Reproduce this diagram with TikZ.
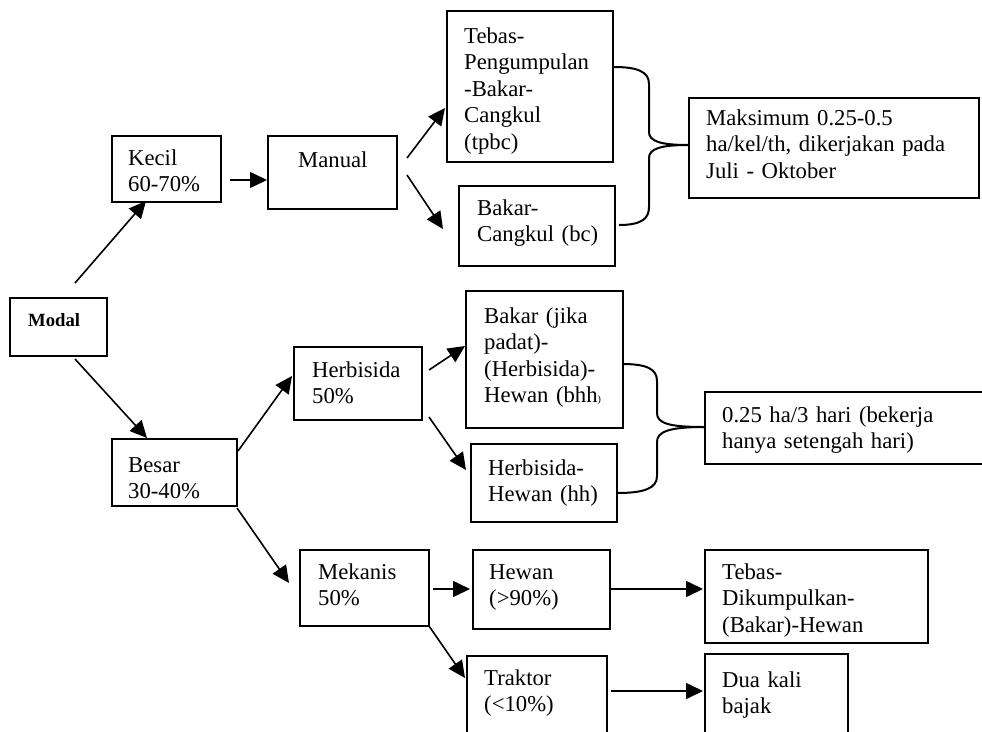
\documentclass[tikz,border=0pt]{standalone}
\usepackage{fontspec}
\setmainfont{Liberation Serif}
\usetikzlibrary{arrows.meta,calc}
\begin{document}
\begin{tikzpicture}[x=1pt,y=-1pt,
  box/.style={draw,line width=2pt,inner sep=0pt,anchor=north west},
  txt/.style={anchor=base west,inner sep=0pt,text width=300pt,align=left,font=\fontsize{22.7}{26.5}\selectfont},
  arr/.style={line width=1.6pt,-{Triangle[length=17pt,width=16pt]}},
  brace/.style={line width=2pt}]
\useasboundingbox (0,0) rectangle (982,731);
\clip (0,0) rectangle (982,731);
% boxes
\node[box,minimum width=97pt,minimum height=58pt] (modal) at (9,297) {};
\node[box,minimum width=109pt,minimum height=66pt] (kecil) at (111,135) {};
\node[box,minimum width=129pt,minimum height=73pt] (manual) at (267,135) {};
\node[box,minimum width=166pt,minimum height=151pt] (tpbc) at (446,10) {};
\node[box,minimum width=156pt,minimum height=80pt] (bc) at (458,185) {};
\node[box,minimum width=290pt,minimum height=100pt] (maks) at (688,97) {};
\node[box,minimum width=128pt,minimum height=73pt] (herb) at (293,346) {};
\node[box,minimum width=125pt,minimum height=67pt] (besar) at (111,438) {};
\node[box,minimum width=157pt,minimum height=137pt] (bhh) at (465,290) {};
\node[box,minimum width=146pt,minimum height=78pt] (hh) at (470,443) {};
\node[box,minimum width=300pt,minimum height=72pt] (set) at (704,391) {};
\node[box,minimum width=129pt,minimum height=76pt] (mek) at (299,549) {};
\node[box,minimum width=137pt,minimum height=79pt] (hewan) at (472,549) {};
\node[box,minimum width=223pt,minimum height=93pt] (teb) at (704,549) {};
\node[box,minimum width=140pt,minimum height=100pt] (trak) at (466,655) {};
\node[box,minimum width=143pt,minimum height=100pt] (dua) at (704,653) {};
% texts
\node[txt,font=\fontsize{18.7}{22}\selectfont\bfseries] (modal-t) at ($(modal.north west)+(19,29)$) {Modal};
\node[txt] (kecil-t) at ($(kecil.north west)+(17,30)$) {Kecil\\60-70\%};
\node[txt] (manual-t) at ($(manual.north west)+(31,32)$) {Manual};
\node[txt] (tpbc-t) at ($(tpbc.north west)+(18,33)$) {Tebas-\\Pengumpulan\\-Bakar-\\Cangkul\\(tpbc)};
\node[txt] (bc-t) at ($(bc.north west)+(19,30)$) {Bakar-\\Cangkul (bc)};
\node[txt] (maks-t) at ($(maks.north west)+(18,28)$) {Maksimum 0.25-0.5\\ha/kel/th, dikerjakan pada\\Juli - Oktober};
\node[txt] (herb-t) at ($(herb.north west)+(19,31)$) {Herbisida\\50\%};
\node[txt] (besar-t) at ($(besar.north west)+(17,34)$) {Besar\\30-40\%};
\node[txt] (bhh-t) at ($(bhh.north west)+(19,33)$) {Bakar (jika\\padat)-\\(Herbisida)-\\Hewan (bhh{\fontsize{10}{10}\selectfont )}};
\node[txt] (hh-t) at ($(hh.north west)+(18,32)$) {Herbisida-\\Hewan (hh)};
\node[txt] (set-t) at ($(set.north west)+(18,31)$) {0.25 ha/3 hari (bekerja\\hanya setengah hari)};
\node[txt] (mek-t) at ($(mek.north west)+(19,30)$) {Mekanis\\50\%};
\node[txt] (hewan-t) at ($(hewan.north west)+(17,30)$) {Hewan\\(>90\%)};
\node[txt] (teb-t) at ($(teb.north west)+(18,30)$) {Tebas-\\Dikumpulkan-\\(Bakar)-Hewan};
\node[txt] (trak-t) at ($(trak.north west)+(18,30)$) {Traktor\\(<10\%)};
\node[txt] (dua-t) at ($(dua.north west)+(18,34)$) {Dua kali\\bajak};
% arrows
\draw[arr] ($(modal.north west)+(66,-14)$) -- ($(kecil.north west)+(35,66)$);
\draw[arr] ($(modal.north west)+(66,62)$) -- ($(besar.north west)+(36,0)$);
\draw[arr] ($(kecil.north west)+(119,45)$) -- ($(manual.north west)+(0,45)$);
\draw[arr] ($(manual.north west)+(140,23)$) -- ($(tpbc.north west)+(-1,98)$);
\draw[arr] ($(manual.north west)+(140,40)$) -- ($(bc.north west)+(-15,44)$);
\draw[arr] ($(besar.north west)+(127,13)$) -- ($(herb.north west)+(-1,30)$);
\draw[arr] ($(besar.north west)+(126,70)$) -- ($(mek.north west)+(-10,34)$);
\draw[arr] ($(herb.north west)+(136,24)$) -- ($(bhh.north west)+(0,56)$);
\draw[arr] ($(herb.north west)+(136,71)$) -- ($(hh.north west)+(-4,27)$);
\draw[arr] ($(mek.north west)+(134,40)$) -- ($(hewan.north west)+(-2,40)$);
\draw[arr] ($(hewan.north west)+(139,40)$) -- ($(teb.north west)+(-1,40)$);
\draw[arr] ($(mek.north west)+(130,77)$) -- ($(trak.north west)+(-1,23)$);
\draw[arr] ($(trak.north west)+(145,36)$) -- ($(dua.north west)+(-1,38)$);
% braces
\draw[brace] ($(tpbc.north west)+(168,57)$) .. controls (638,67) and (649,72) .. (649,84) -- (649,132) .. controls (649,141) and (660,145) .. ($(maks.north west)+(0,48)$);
\draw[brace] ($(bc.north west)+(161,40)$) .. controls (641,225) and (649,219) .. (649,207) -- (649,158) .. controls (649,149) and (660,145) .. ($(maks.north west)+(0,48)$);
\draw[brace] ($(bhh.north west)+(157,74)$) .. controls (647,364) and (657,369) .. (657,381) -- (657,413) .. controls (657,423) and (668,427) .. ($(set.north west)+(0,36)$);
\draw[brace] ($(hh.north west)+(147,50)$) .. controls (645,493) and (657,488) .. (657,476) -- (657,442) .. controls (657,432) and (668,427) .. ($(set.north west)+(0,36)$);
\end{tikzpicture}
\end{document}
